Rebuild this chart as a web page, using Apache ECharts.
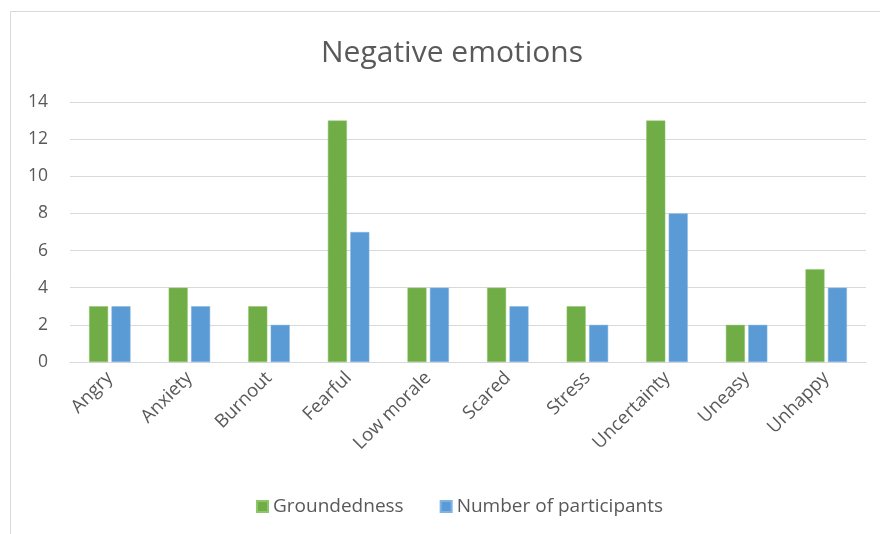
<!DOCTYPE html>
<html><head><meta charset="utf-8">
<script src="https://cdn.jsdelivr.net/npm/echarts@6/dist/echarts.min.js"></script>
<style>html,body{margin:0;padding:0;background:#fff}#c{width:880px;height:534px}</style>
</head><body><div id="c"></div>
<script>
const categories = ["Angry","Anxiety","Burnout","Fearful","Low morale","Scared","Stress","Uncertainty","Uneasy","Unhappy"];
const groundedness = [3,4,3,13,4,4,3,13,2,5];
const participants = [3,3,2,7,4,3,2,8,2,4];
const yTicks = [0,2,4,6,8,10,12,14];
const FONT = '"Open Sans", sans-serif';
const chart = echarts.init(document.getElementById('c'));
chart.setOption({
  animation:false,
  backgroundColor:'#fff',
  graphic:[{type:'rect',shape:{x:10.5,y:11.5,width:900,height:600},style:{fill:'none',stroke:'#d9d9d9',lineWidth:1},silent:true}],
  title:{text:'Negative emotions',left:447,top:33,textAlign:'center',
    textStyle:{fontFamily:FONT,fontSize:30,fontWeight:'normal',color:'#595959'}},
  legend:{bottom:13,left:251,itemWidth:11,itemHeight:11,itemGap:36,itemTextGap:6,icon:'rect',
    textStyle:{fontFamily:FONT,fontSize:19,color:'#595959'},
    data:['Groundedness','Number of participants']},
  grid:{left:70,right:14,top:102,bottom:172},
  xAxis:{type:'category',data:categories,
    axisLine:{lineStyle:{color:'#d9d9d9'}},axisTick:{show:false},
    axisLabel:{rotate:45,fontFamily:FONT,fontSize:18.5,color:'#595959',margin:13,interval:0}},
  yAxis:{type:'value',min:yTicks[0],max:yTicks[yTicks.length-1],interval:2,
    axisLine:{show:false},axisTick:{show:false},
    splitLine:{lineStyle:{color:'#d9d9d9',width:1}},
    axisLabel:{fontFamily:FONT,fontSize:17.5,color:'#595959',margin:22}},
  series:[
    {name:'Groundedness',type:'bar',data:groundedness,barWidth:19,barGap:'18%',
      itemStyle:{color:'#70AD47',borderColor:'#8cc56a',borderWidth:0.5}},
    {name:'Number of participants',type:'bar',data:participants,barWidth:19,
      itemStyle:{color:'#5B9BD5',borderColor:'#7fb3e3',borderWidth:0.5}}
  ]
});
</script></body></html>
